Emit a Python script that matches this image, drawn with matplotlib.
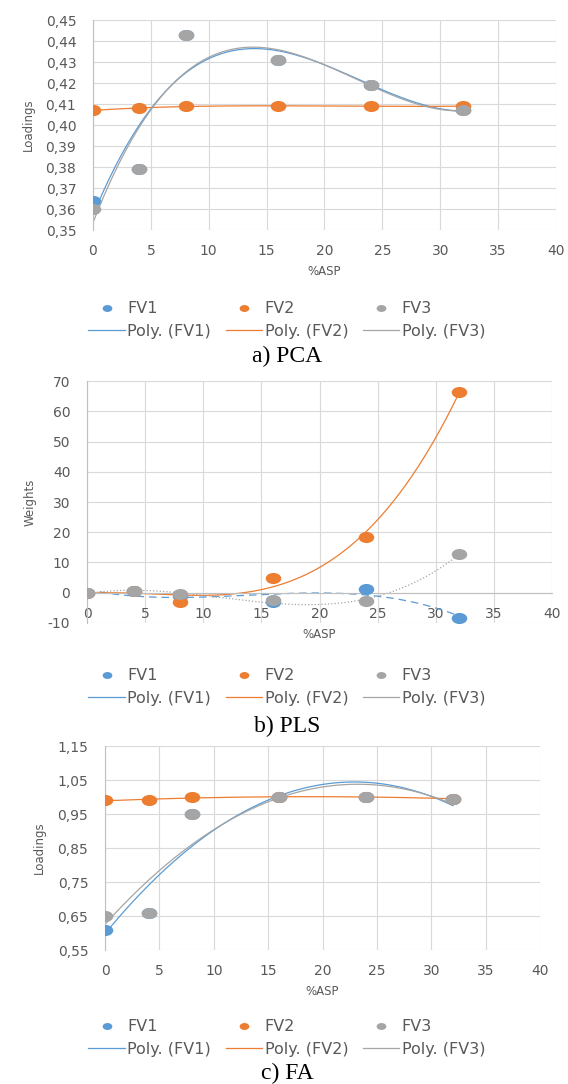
import matplotlib
matplotlib.use('Agg')
from matplotlib import pyplot as plt
from matplotlib.lines import Line2D
from matplotlib.markers import MarkerStyle
from matplotlib.transforms import Affine2D
import numpy as np

plt.rcParams['font.family'] = ['DejaVu Sans']
plt.rcParams['axes.unicode_minus'] = False

# data
asp = [0, 4, 8, 16, 24, 32]

pca_fv1 = [0.364, 0.379, 0.443, 0.431, 0.419, 0.407]
pca_fv2 = [0.407, 0.408, 0.409, 0.409, 0.409, 0.409]
pca_fv3 = [0.360, 0.379, 0.443, 0.431, 0.419, 0.407]

pls_fv1 = [0.0, 0.5, -1.0, -3.0, 1.2, -8.2]
pls_fv2 = [0.0, 0.5, -3.2, 4.9, 18.3, 66.5]
pls_fv3 = [0.0, 0.5, -0.5, -2.4, -2.8, 12.8]

fa_fv1 = [0.61, 0.66, 0.95, 1.00, 1.00, 0.995]
fa_fv2 = [0.99, 0.99, 1.00, 1.00, 1.00, 0.995]
fa_fv3 = [0.65, 0.66, 0.95, 1.00, 1.00, 0.995]

colors = ['#5B9BD5', '#ED7D31', '#A5A5A5']
names = ['FV1', 'FV2', 'FV3']
txt_col = '#595959'
grid_col = '#D9D9D9'

# the picture is a bit stretched sideways, so are the dots
oval = MarkerStyle('o', transform=Affine2D().scale(1.4, 1.0))

fig = plt.figure(figsize=(5.68, 10.84), dpi=100)


def fmt(v, nd):
    return ('%.' + str(nd) + 'f') % v


def panel(rect, series, yticks, nd, ylabel, degree, styles, caption, cap_y, leg_y, spine0=False):
    ax = fig.add_axes(rect)
    xs = np.linspace(0, 32, 200)
    for s, c, ls in zip(series, colors, styles):
        ax.plot(asp, s, ls='none', marker=oval, markersize=8, color=c, mew=0, zorder=3)
        coef = np.polyfit(asp, s, degree)
        ax.plot(xs, np.polyval(coef, xs), color=c, lw=0.9, ls=ls, zorder=2)
    ax.set_xlim(0, 40)
    ax.set_ylim(yticks[0], yticks[-1])
    ax.set_xticks(range(0, 41, 5))
    ax.set_yticks(yticks)
    ax.set_yticklabels([fmt(v, nd).replace('.', ',') for v in yticks])
    ax.grid(True, color=grid_col, lw=0.8)
    ax.set_axisbelow(True)
    for sp in ax.spines.values():
        sp.set_visible(False)
    ax.spines['left'].set_visible(True)
    ax.spines['left'].set_color('#BFBFBF')
    if spine0:
        ax.spines['bottom'].set_visible(True)
        ax.spines['bottom'].set_position(('data', 0))
        ax.spines['bottom'].set_color('#BFBFBF')
    ax.tick_params(axis='x', length=0, labelsize=10, colors=txt_col, pad=10)
    ax.tick_params(axis='y', length=0, labelsize=10, colors=txt_col, pad=12)
    ax.set_xlabel('%ASP', fontsize=8.5, color=txt_col, labelpad=5)
    ax.set_ylabel(ylabel, fontsize=8.5, color=txt_col, labelpad=8)

    handles = []
    labels = []
    for n, c, ls in zip(names, colors, styles):
        handles.append(Line2D([], [], color=c, marker=oval, ls='none', markersize=5, mew=0))
        labels.append(n)
        handles.append(Line2D([], [], color=c, lw=0.9))
        labels.append('Poly. (' + n + ')')
    fig.legend(handles, labels, ncol=3, loc='center', bbox_to_anchor=(0.505, leg_y),
               frameon=False, fontsize=11.5, handlelength=2.3, columnspacing=0.9,
               handletextpad=0.15, labelspacing=0.45, labelcolor=txt_col)
    fig.text(0.505, cap_y, caption, ha='center', va='center', fontsize=17,
             family='Liberation Serif', color='black')
    return ax


panel([0.1637, 0.7878, 0.8151, 0.1937], [pca_fv1, pca_fv2, pca_fv3],
      [0.35 + 0.01 * i for i in range(11)], 2, 'Loadings', 3,
      ['-', '-', '-'], 'a) PCA', 1 - 356 / 1084, 1 - 320 / 1084)

panel([0.1532, 0.4253, 0.8187, 0.2232], [pls_fv1, pls_fv2, pls_fv3],
      list(range(-10, 71, 10)), 0, 'Weights', 3,
      [(0, (6, 4)), '-', ':'], 'b) PLS', 1 - 726 / 1084, 1 - 687 / 1084, spine0=True)

panel([0.1849, 0.1236, 0.7658, 0.1882], [fa_fv1, fa_fv2, fa_fv3],
      [0.55 + 0.1 * i for i in range(7)], 2, 'Loadings', 2,
      ['-', '-', '-'], 'c) FA', 1 - 1073 / 1084, 1 - 1038 / 1084)

plt.savefig('out.png', dpi=100)
plt.close()
